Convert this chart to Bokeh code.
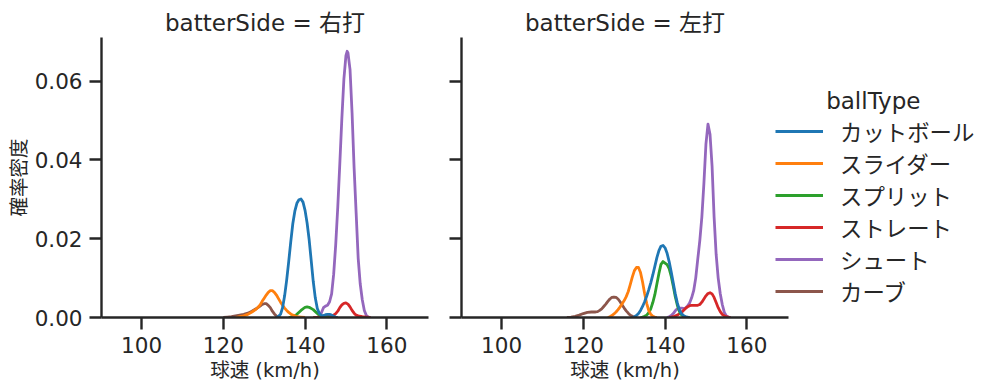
from bokeh.plotting import figure
from bokeh.layouts import row
from bokeh.models import (FixedTicker, NumeralTickFormatter, CustomJSTickFormatter,
                          Legend, LegendItem, Range1d)
from bokeh.embed import file_html
from bokeh.resources import INLINE

# ---------------- data ----------------
PITCH_TYPES = ["カットボール", "スライダー", "スプリット", "ストレート", "シュート", "カーブ"]
COLORS = ["#1f77b4", "#ff7f0e", "#2ca02c", "#d62728", "#9467bd", "#8c564b"]
SIDES = ["右打", "左打"]
X_TICKS = [100, 120, 140, 160]
Y_TICKS = [0.0, 0.02, 0.04, 0.06]

# batterSide = 右打
R_CUT_X = [133, 133.5, 134, 134.5, 135, 135.5, 136, 136.5, 137, 137.5, 138, 138.5, 139, 139.5, 140,
           140.5, 141, 141.5, 142, 142.5, 143, 143.5, 144, 144.5, 145, 145.5, 146, 146.5, 147, 147.5, 148]
R_CUT_Y = [0, 0.0003, 0.0008, 0.0025, 0.0055, 0.0095, 0.0142, 0.0192, 0.0238, 0.0270, 0.0290, 0.0299,
           0.0301, 0.0293, 0.0272, 0.0240, 0.0198, 0.0145, 0.0092, 0.0050, 0.0023, 0.0010, 0.0005,
           0.0005, 0.0007, 0.0008, 0.0008, 0.0006, 0.0003, 0.0001, 0]
R_SLD_X = [123, 124, 125, 126, 127, 128, 128.5, 129, 129.5, 130, 130.5, 131, 131.5, 132, 132.5, 133,
           133.5, 134, 134.5, 135, 135.5, 136, 136.5, 137, 137.5, 138, 139, 140]
R_SLD_Y = [0, 0.0002, 0.0004, 0.0008, 0.0014, 0.0021, 0.0026, 0.0032, 0.0041, 0.0049, 0.0057, 0.0064,
           0.0068, 0.0068, 0.0064, 0.0057, 0.0048, 0.0039, 0.0031, 0.0024, 0.0018, 0.0013, 0.0009,
           0.0006, 0.0004, 0.0002, 0.0001, 0]
R_SPL_X = [136, 137, 138, 139, 140, 140.5, 141, 142, 143, 144, 145, 146]
R_SPL_Y = [0, 0.0002, 0.0008, 0.0018, 0.0026, 0.0027, 0.0026, 0.0020, 0.0010, 0.0004, 0.0001, 0]
R_FB_X = [142, 143, 144, 145, 146, 147, 147.5, 148, 148.5, 149, 149.5, 150, 150.5, 151, 151.5, 152,
          152.5, 153, 154, 155, 156]
R_FB_Y = [0, 0.0001, 0.0003, 0.0004, 0.0004, 0.0006, 0.0010, 0.0016, 0.0025, 0.0032, 0.0036, 0.0037,
          0.0034, 0.0027, 0.0018, 0.0011, 0.0006, 0.0004, 0.0002, 0.0001, 0]
R_SHT_X = [143, 143.5, 144, 144.5, 145, 145.5, 146, 146.5, 147, 147.5, 148, 148.5, 149, 149.5, 150,
           150.3, 150.5, 151, 151.5, 152, 152.5, 153, 153.5, 154, 154.5, 155, 155.5, 156]
R_SHT_Y = [0, 0.0003, 0.0012, 0.0025, 0.0029, 0.0031, 0.0040, 0.0060, 0.0110, 0.0185, 0.0280, 0.0390,
           0.0505, 0.0605, 0.0665, 0.0676, 0.0672, 0.0630, 0.0520, 0.0380, 0.0265, 0.0150, 0.0085,
           0.0045, 0.0018, 0.0005, 0.0001, 0]
R_CRV_X = [120, 121, 122, 123, 124, 125, 126, 127, 128, 129, 129.5, 130, 130.5, 131, 131.5, 132,
           132.5, 133, 133.5, 134]
R_CRV_Y = [0, 0.0001, 0.0002, 0.0004, 0.0006, 0.0008, 0.0011, 0.0016, 0.0022, 0.0029, 0.0033, 0.0035,
           0.0035, 0.0031, 0.0025, 0.0016, 0.0009, 0.0004, 0.0001, 0]

# batterSide = 左打
L_CUT_X = [132, 132.5, 133, 133.5, 134, 134.5, 135, 135.5, 136, 136.5, 137, 137.5, 138, 138.5, 139,
           139.5, 140, 140.5, 141, 141.5, 142, 142.5, 143, 143.5, 144, 144.5, 145, 146]
L_CUT_Y = [0, 0.0002, 0.0005, 0.0010, 0.0018, 0.0028, 0.0040, 0.0054, 0.0070, 0.0088, 0.0108, 0.0130,
           0.0152, 0.0170, 0.0181, 0.0183, 0.0177, 0.0163, 0.0142, 0.0116, 0.0088, 0.0060, 0.0037,
           0.0020, 0.0010, 0.0005, 0.0002, 0]
L_SLD_X = [126, 126.5, 127, 127.5, 128, 128.5, 129, 129.5, 130, 130.5, 131, 131.5, 132, 132.5, 133,
           133.5, 134, 134.5, 135, 135.5, 136, 136.5, 137, 137.5, 138]
L_SLD_Y = [0, 0.0002, 0.0005, 0.0009, 0.0014, 0.0020, 0.0027, 0.0035, 0.0043, 0.0053, 0.0066, 0.0084,
           0.0103, 0.0119, 0.0127, 0.0127, 0.0114, 0.0090, 0.0061, 0.0036, 0.0018, 0.0008, 0.0003,
           0.0001, 0]
L_SPL_X = [134, 134.5, 135, 135.5, 136, 136.5, 137, 137.5, 138, 138.5, 139, 139.5, 140, 140.5, 141,
           141.5, 142, 142.5, 143, 143.5, 144, 144.5, 145, 146]
L_SPL_Y = [0, 0.0001, 0.0003, 0.0006, 0.0012, 0.0022, 0.0038, 0.0058, 0.0085, 0.0112, 0.0135, 0.0142,
           0.0138, 0.0134, 0.0124, 0.0105, 0.0080, 0.0053, 0.0031, 0.0016, 0.0007, 0.0003, 0.0001, 0]
L_FB_X = [141, 142, 143, 144, 144.5, 145, 145.5, 146, 146.5, 147, 147.5, 148, 148.5, 149, 149.5, 150,
          150.5, 151, 151.5, 152, 152.5, 153, 153.5, 154, 154.5, 155, 156]
L_FB_Y = [0, 0.0002, 0.0006, 0.0013, 0.0018, 0.0023, 0.0027, 0.0030, 0.0031, 0.0031, 0.0031, 0.0031,
          0.0033, 0.0039, 0.0047, 0.0055, 0.0061, 0.0063, 0.0060, 0.0051, 0.0038, 0.0025, 0.0015,
          0.0008, 0.0004, 0.0002, 0]
L_SHT_X = [140.5, 141, 141.5, 142, 142.5, 143, 143.5, 144, 144.5, 145, 145.5, 146, 146.5, 147, 147.5,
           148, 148.5, 149, 149.5, 150, 150.5, 151, 151.5, 152, 152.5, 153, 153.5, 154, 154.5, 155,
           155.5, 156]
L_SHT_Y = [0, 0.0002, 0.0005, 0.0010, 0.0017, 0.0022, 0.0024, 0.0024, 0.0023, 0.0024, 0.0029, 0.0037,
           0.0050, 0.0068, 0.0100, 0.0148, 0.0195, 0.0255, 0.0340, 0.0440, 0.0491, 0.0465, 0.0385,
           0.0255, 0.0160, 0.0100, 0.0061, 0.0033, 0.0013, 0.0004, 0.0001, 0]
L_CRV_X = [116, 117, 118, 119, 120, 121, 122, 123, 123.5, 124, 124.5, 125, 125.5, 126, 126.5, 127,
           127.5, 128, 128.5, 129, 129.5, 130, 130.5, 131, 131.5, 132, 132.5, 133]
L_CRV_Y = [0, 0.0001, 0.0003, 0.0006, 0.0010, 0.0013, 0.0014, 0.0014, 0.0015, 0.0018, 0.0022, 0.0028,
           0.0034, 0.0041, 0.0047, 0.0051, 0.0052, 0.0051, 0.0047, 0.0040, 0.0032, 0.0024, 0.0017,
           0.0011, 0.0006, 0.0003, 0.0001, 0]

CURVES = {
    "右打": [(R_CUT_X, R_CUT_Y), (R_SLD_X, R_SLD_Y), (R_SPL_X, R_SPL_Y),
             (R_FB_X, R_FB_Y), (R_SHT_X, R_SHT_Y), (R_CRV_X, R_CRV_Y)],
    "左打": [(L_CUT_X, L_CUT_Y), (L_SLD_X, L_SLD_Y), (L_SPL_X, L_SPL_Y),
             (L_FB_X, L_FB_Y), (L_SHT_X, L_SHT_Y), (L_CRV_X, L_CRV_Y)],
}

# ---------------- styling ----------------
FONT = "DejaVu Sans, Noto Sans CJK JP"
INK = "#262626"
LINE_W = 2.8
X_MIN, X_MAX = 90.2, 170.2
Y_MIN, Y_MAX = 0.0, 0.0711


def make_panel(side, first):
    p = figure(frame_width=327, frame_height=280,
               x_range=Range1d(X_MIN, X_MAX), y_range=Range1d(Y_MIN, Y_MAX),
               output_backend="svg", toolbar_location=None,
               min_border_left=101 if first else 28, min_border_right=5 if first else 0,
               min_border_top=37, min_border_bottom=70)
    p.xgrid.grid_line_color = None
    p.ygrid.grid_line_color = None
    p.outline_line_color = None
    p.background_fill_color = "white"
    p.border_fill_color = "white"

    p.title.text = f"batterSide = {side}"
    p.title.align = "center"
    p.title.text_font = FONT
    p.title.text_font_size = "23px"
    p.title.text_font_style = "normal"
    p.title.text_color = INK
    p.title.standoff = 3

    for ax in (p.xaxis[0], p.yaxis[0]):
        ax.axis_line_width = 2.4
        ax.axis_line_color = INK
        ax.major_tick_line_width = 2.4
        ax.major_tick_line_color = INK
        ax.major_tick_out = 12
        ax.major_tick_in = 0
        ax.minor_tick_line_color = None
        ax.major_label_text_font = FONT
        ax.major_label_text_font_size = "21.5px"
        ax.major_label_text_color = INK
        ax.major_label_standoff = 7
        ax.axis_label_text_font = FONT
        ax.axis_label_text_font_size = "19.5px"
        ax.axis_label_text_font_style = "normal"
        ax.axis_label_text_color = INK

    p.xaxis.ticker = FixedTicker(ticks=X_TICKS)
    p.yaxis.ticker = FixedTicker(ticks=Y_TICKS)
    p.xaxis.axis_label = "球速 (km/h)"
    p.xaxis.axis_label_standoff = 3
    if first:
        p.yaxis.formatter = NumeralTickFormatter(format="0.00")
        p.yaxis.axis_label = "確率密度"
        p.yaxis.axis_label_standoff = 1
    else:
        p.yaxis.formatter = CustomJSTickFormatter(code="return ''")
        p.yaxis.major_label_standoff = 0

    renderers = {}
    curves = CURVES[side]
    for i in reversed(range(len(PITCH_TYPES))):
        xs, ys = curves[i]
        r = p.line(xs, ys, line_color=COLORS[i], line_width=LINE_W, line_join="round")
        renderers[PITCH_TYPES[i]] = r
    return p, renderers


p1, _ = make_panel(SIDES[0], True)
p2, rends = make_panel(SIDES[1], False)

NBSP = "\u00a0"
legend = Legend(items=[LegendItem(label=name, renderers=[rends[name]]) for name in PITCH_TYPES],
                title=NBSP * 7 + "ballType", title_text_font=FONT, title_text_font_size="23px",
                title_text_font_style="normal", title_text_color=INK, title_standoff=1,
                location=(-13, 10), padding=0, margin=0, spacing=0,
                glyph_width=48, glyph_height=32, label_height=32, label_standoff=17,
                label_text_font=FONT, label_text_font_size="22.4px", label_text_color=INK,
                border_line_color=None, background_fill_alpha=0)
p2.add_layout(legend, "right")

layout = row(p1, p2)
open("out.html", "w").write(file_html(layout, INLINE))
